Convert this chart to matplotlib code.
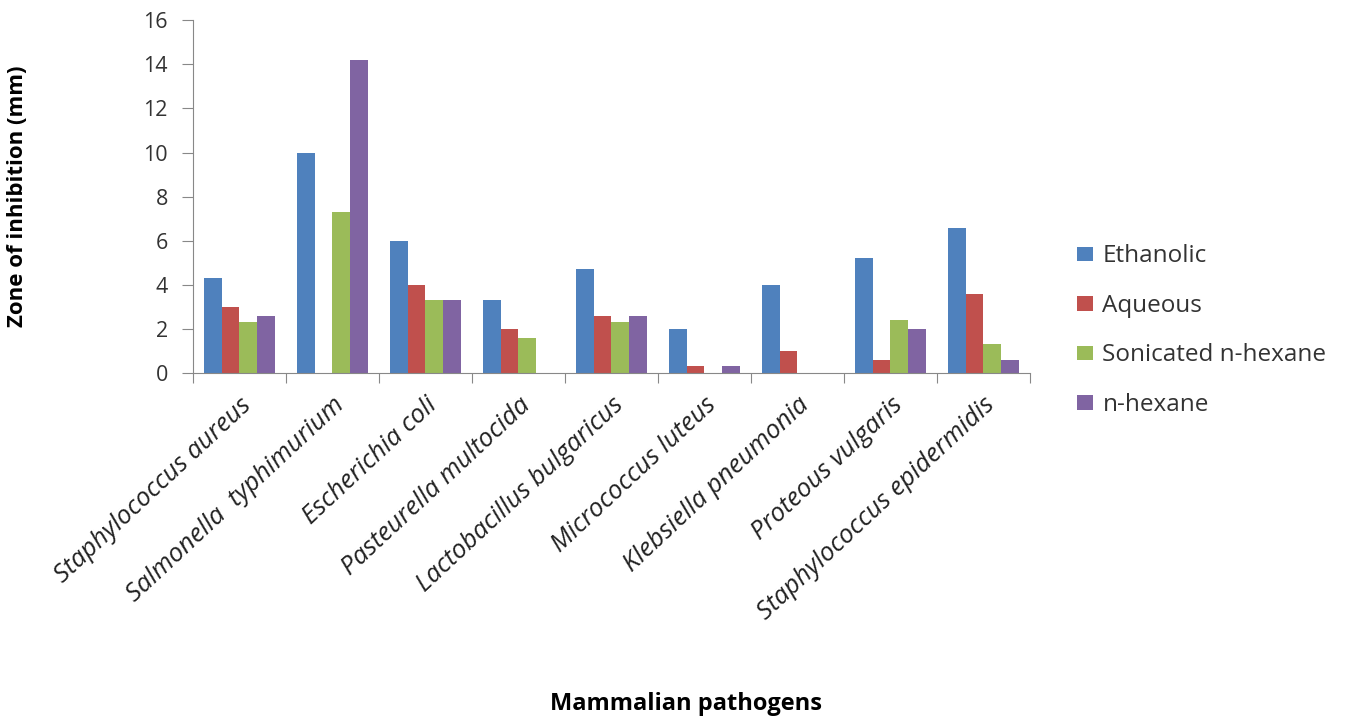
import numpy as np
import matplotlib.pyplot as plt

# pathogens and zone of inhibition (mm) per extract
pathogens = ["Staphylococcus aureus", "Salmonella  typhimurium", "Escherichia coli",
             "Pasteurella multocida", "Lactobacillus bulgaricus", "Micrococcus luteus",
             "Klebsiella pneumonia", "Proteous vulgaris", "Staphylococcus epidermidis"]
ethanolic = [4.3, 10.0, 6.0, 3.3, 4.7, 2.0, 4.0, 5.2, 6.6]
aqueous = [3.0, 0.0, 4.0, 2.0, 2.6, 0.3, 1.0, 0.6, 3.6]
sonicated = [2.3, 7.3, 3.3, 1.6, 2.3, 0.0, 0.0, 2.4, 1.3]
hexane = [2.6, 14.2, 3.3, 0.0, 2.6, 0.3, 0.0, 2.0, 0.6]

series = [("Ethanolic", ethanolic, "#4F81BD"),
          ("Aqueous", aqueous, "#C0504D"),
          ("Sonicated n-hexane", sonicated, "#9BBB59"),
          ("n-hexane", hexane, "#8064A2")]

plt.rcParams['font.family'] = ['Open Sans', 'DejaVu Sans']

fig = plt.figure(figsize=(13.48, 7.23), dpi=100)
ax = fig.add_axes([0.143, 0.484, 0.621, 0.488])

x = np.arange(len(pathogens))
w = 0.19
for i, (name, vals, col) in enumerate(series):
    ax.bar(x + (i - 1.5) * w, vals, w, color=col, label=name)

ax.set_xlim(-0.5, len(pathogens) - 0.5)
ax.set_ylim(0, 16)
ax.set_yticks(range(0, 17, 2))
ax.set_xticks(np.arange(len(pathogens) + 1) - 0.5)
ax.set_xticklabels([])
ax.set_xticks(x, minor=True)
ax.set_xticklabels(pathogens, minor=True, rotation=43, ha='right',
                   rotation_mode='anchor', fontstyle='italic', fontsize=18.5,
                   color='#222222')
ax.tick_params(axis='x', which='minor', length=0, pad=14)
ax.tick_params(axis='x', which='major', length=7, color='#888888')
ax.tick_params(axis='y', length=8, color='#888888', labelsize=15.5,
               labelcolor='#333333', pad=10)

for s in ['top', 'right']:
    ax.spines[s].set_visible(False)
for s in ['left', 'bottom']:
    ax.spines[s].set_color('#888888')

ax.set_ylabel("Zone of inhibition (mm)", fontsize=16, fontweight='bold')
ax.yaxis.set_label_coords(-0.197, 0.5)
fig.text(0.509, 0.018, "Mammalian pathogens", ha='center', fontsize=17, fontweight='bold')

ax.legend(loc='center left', bbox_to_anchor=(1.03, 0.12), frameon=False, fontsize=17.5,
          handlelength=0.65, handleheight=0.55, labelspacing=1.05, handletextpad=0.4,
          labelcolor='#333333')

fig.savefig("out.png", dpi=100)
